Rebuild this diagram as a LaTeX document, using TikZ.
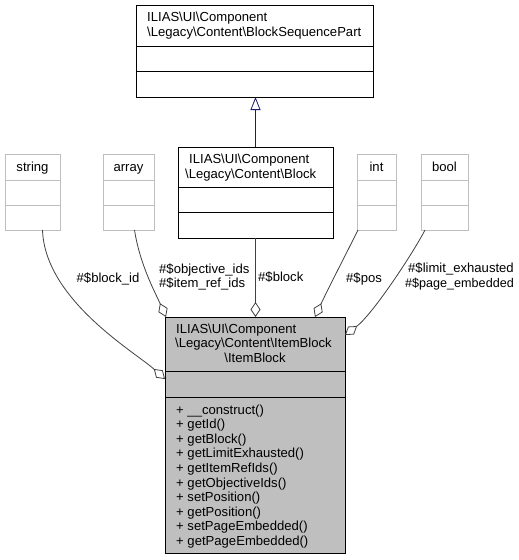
\documentclass[tikz,border=0pt]{standalone}
\usepackage{fontspec}
\setmainfont{Liberation Sans}
\usetikzlibrary{arrows.meta,calc}
\definecolor{grey75}{HTML}{BFBFBF}
\definecolor{grey25}{HTML}{404040}
\definecolor{midnight}{HTML}{191970}
\newcommand\bsl{\textbackslash}
\begin{document}
\begin{tikzpicture}[x=1pt,y=-1pt,
  box/.style={draw, rectangle, inner sep=0pt, outer sep=0pt, anchor=north west, line width=1pt},
  greybox/.style={box, draw=grey75, fill=white},
  mainbox/.style={box, draw=black, fill=grey75},
  plainbox/.style={box, draw=black, fill=white},
  txt/.style={inner sep=0pt, font=\fontsize{13.1}{14.6}\selectfont, anchor=base west},
  ctxt/.style={txt, anchor=base},
  sepblack/.style={draw=black, line width=1pt},
  sepgrey/.style={draw=grey75, line width=1pt},
  use/.style={draw=grey25, line width=0.8pt, -{Diamond[open,length=15pt,width=10pt,line width=0.8pt]}},
  inh/.style={draw=midnight, line width=0.8pt, -{Triangle[open,length=13pt,width=10pt,line width=0.8pt]}}]
\useasboundingbox (0,0) rectangle (519,560);

% boxes
\node[plainbox, minimum width=237pt, minimum height=92pt] (bsp) at (136,5) {};
\draw[sepblack] ($(bsp.north west)+(0,41)$) -- ($(bsp.north east)+(0,41)$);
\draw[sepblack] ($(bsp.north west)+(0,66)$) -- ($(bsp.north east)+(0,66)$);
\node[txt] (bsp1) at (147,21) {ILIAS\bsl UI\bsl Component};
\node[txt] (bsp2) at (147,36) {\bsl Legacy\bsl Content\bsl BlockSequencePart};

\node[plainbox, minimum width=155pt, minimum height=91pt] (block) at (178,147) {};
\draw[sepblack] ($(block.north west)+(0,40)$) -- ($(block.north east)+(0,40)$);
\draw[sepblack] ($(block.north west)+(0,65)$) -- ($(block.north east)+(0,65)$);
\node[txt] (block1) at (189,163) {ILIAS\bsl UI\bsl Component};
\node[txt] (block2) at (185,178) {\bsl Legacy\bsl Content\bsl Block};

\node[greybox, minimum width=55pt, minimum height=76pt] (string) at (5,154) {};
\node[greybox, minimum width=51pt, minimum height=76pt] (array) at (103,154) {};
\node[greybox, minimum width=39pt, minimum height=76pt] (int) at (357,154) {};
\node[greybox, minimum width=47pt, minimum height=76pt] (bool) at (421,154) {};
\foreach \b in {string,array,int,bool}{
  \draw[sepgrey] ($(\b.north west)+(0,26)$) -- ($(\b.north east)+(0,26)$);
  \draw[sepgrey] ($(\b.north west)+(0,51)$) -- ($(\b.north east)+(0,51)$);
}
\node[ctxt] (stringt) at (32.5,171) {string};
\node[ctxt] (arrayt) at (128.5,171) {array};
\node[ctxt] (intt) at (376.5,171) {int};
\node[ctxt] (boolt) at (444.5,171) {bool};

\node[mainbox, minimum width=180pt, minimum height=236pt] (item) at (165,317) {};
\draw[sepblack] ($(item.north west)+(0,54)$) -- ($(item.north east)+(0,54)$);
\draw[sepblack] ($(item.north west)+(0,80)$) -- ($(item.north east)+(0,80)$);
\node[txt] (item1) at (176,333) {ILIAS\bsl UI\bsl Component};
\node[txt] (item2) at (175,347.6) {\bsl Legacy\bsl Content\bsl ItemBlock};
\node[ctxt] (item3) at (255,362.2) {\bsl ItemBlock};
\foreach \m [count=\i from 0] in {+ \_\_construct(),+ getId(),+ getBlock(),+ getLimitExhausted(),+ getItemRefIds(),+ getObjectiveIds(),+ setPosition(),+ getPosition(),+ setPageEmbedded(),+ getPageEmbedded()}{
  \node[txt] (m\i) at (176,414+14.6*\i) {\m};
}

% inheritance
\draw[inh] (block.north) -- (block.north |- bsp.south);

% usage edges
\draw[use] ($(string.south)+(10,0)$) .. controls (45,300) and (135,352) .. ($(item.north west)+(0,62)$);
\draw[use] ($(array.south)+(6,0)$) .. controls (140,265) and (155,292) .. ($(item.north west)+(1,0)$);
\draw[use] (block.south) -- (block.south |- item.north);
\draw[use] ($(int.south west)+(1,0)$) .. controls (348,250) and (326,293) .. ($(item.north east)+(-30,0)$);
\draw[use] ($(bool.south west)+(4,0)$) .. controls (412,255) and (372,315) .. ($(item.north east)+(0,18)$);

% labels
\node[ctxt] (lblockid) at (108,282) {\#\$block\_id};
\node[txt] (lobj) at (159,273.3) {\#\$objective\_ids};
\node[txt] (litem) at (159,287.5) {\#\$item\_ref\_ids};
\node[txt] (lblock) at (258,281) {\#\$block};
\node[txt] (lpos) at (346,282) {\#\$pos};
\node[txt] (llimit) at (408,272.5) {\#\$limit\_exhausted};
\node[txt, font=\fontsize{12.6}{14.6}\selectfont] (lpage) at (405,287) {\#\$page\_embedded};
\end{tikzpicture}
\end{document}
